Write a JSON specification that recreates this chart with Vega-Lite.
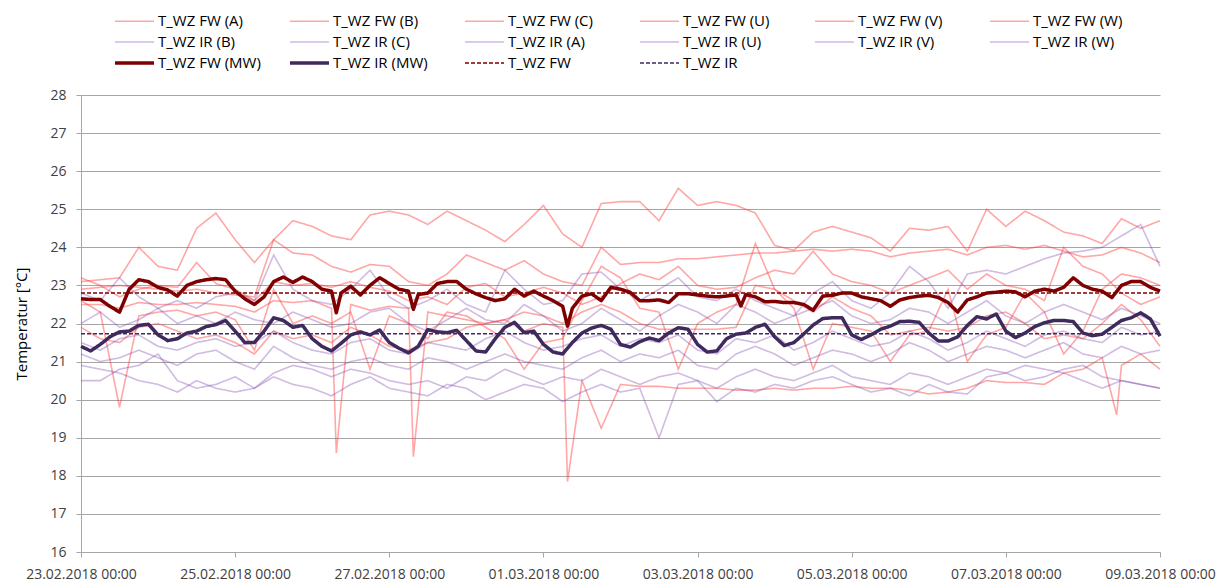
{
"$schema": "https://vega.github.io/schema/vega-lite/v6.json",
"width": 1079, "height": 457,
"autosize": {"type": "none"},
"padding": {"left": 81, "top": 95, "right": 60, "bottom": 32},
"background": "white",
"config": {"view": {"stroke": null}, "font": "Open Sans", "axis": {"labelFont": "Open Sans", "titleFont": "Open Sans"}},
"datasets": {"names": [
{"k":"FA","name":"T_WZ FW (A)"},{"k":"FB","name":"T_WZ FW (B)"},{"k":"FC","name":"T_WZ FW (C)"},{"k":"FU","name":"T_WZ FW (U)"},{"k":"FV","name":"T_WZ FW (V)"},{"k":"FW","name":"T_WZ FW (W)"},
{"k":"IA","name":"T_WZ IR (A)"},{"k":"IB","name":"T_WZ IR (B)"},{"k":"IC","name":"T_WZ IR (C)"},{"k":"IU","name":"T_WZ IR (U)"},{"k":"IV","name":"T_WZ IR (V)"},{"k":"IW","name":"T_WZ IR (W)"},
{"k":"FM","name":"T_WZ FW (MW)"},{"k":"IM","name":"T_WZ IR (MW)"},{"k":"F","name":"T_WZ FW"},{"k":"I","name":"T_WZ IR"}]},
"data": {"values": [
{"t":"2018-02-23T00:00","FA":23.1,"FB":22.9,"FC":23.2,"FU":22.5,"FV":21.9,"FW":22.6,"IA":22.8,"IB":22.0,"IC":21.5,"IU":21.2,"IV":20.5,"IW":20.9,"FM":22.65,"IM":21.4,"F":22.8,"I":21.73},
{"t":"2018-02-23T03:00","FM":22.63,"IM":21.28},
{"t":"2018-02-23T06:00","FA":23.15,"FB":22.95,"FC":23.0,"FU":22.5,"FV":21.6,"FW":22.3,"IA":22.6,"IB":22.3,"IC":21.3,"IU":21.0,"IV":20.5,"IW":20.8,"FM":22.63,"IM":21.45},
{"t":"2018-02-23T09:00","FM":22.45,"IM":21.65},
{"t":"2018-02-23T12:00","FA":23.2,"FB":23.0,"FC":22.7,"FU":22.4,"FV":21.5,"FW":19.8,"IA":23.2,"IB":21.9,"IC":21.6,"IU":21.1,"IV":20.8,"IW":20.7,"FM":22.3,"IM":21.78},
{"t":"2018-02-23T15:00","FM":22.9,"IM":21.8},
{"t":"2018-02-23T18:00","FA":24.0,"FB":22.95,"FC":22.9,"FU":22.55,"FV":21.9,"FW":22.2,"IA":22.7,"IB":22.1,"IC":21.7,"IU":21.3,"IV":20.9,"IW":20.5,"FM":23.15,"IM":21.95},
{"t":"2018-02-23T21:00","FM":23.1,"IM":21.98},
{"t":"2018-02-24T00:00","FA":23.5,"FB":22.9,"FC":23.0,"FU":22.5,"FV":22.0,"FW":22.3,"IA":22.4,"IB":22.4,"IC":21.4,"IU":21.1,"IV":21.2,"IW":20.4,"FM":22.95,"IM":21.7},
{"t":"2018-02-24T03:00","FM":22.88,"IM":21.55},
{"t":"2018-02-24T06:00","FA":23.4,"FB":22.85,"FC":22.95,"FU":22.5,"FV":21.8,"FW":22.35,"IA":22.6,"IB":22.0,"IC":21.3,"IU":20.9,"IV":20.5,"IW":20.2,"FM":22.72,"IM":21.6},
{"t":"2018-02-24T09:00","FM":23.0,"IM":21.75},
{"t":"2018-02-24T12:00","FA":24.5,"FB":22.9,"FC":23.6,"FU":22.55,"FV":21.6,"FW":22.2,"IA":22.4,"IB":22.2,"IC":21.5,"IU":21.2,"IV":20.3,"IW":20.5,"FM":23.1,"IM":21.8},
{"t":"2018-02-24T15:00","FM":23.15,"IM":21.92},
{"t":"2018-02-24T18:00","FA":24.9,"FB":22.8,"FC":23.05,"FU":22.5,"FV":21.7,"FW":22.3,"IA":22.7,"IB":22.0,"IC":21.6,"IU":21.3,"IV":20.4,"IW":20.3,"FM":23.18,"IM":21.97},
{"t":"2018-02-24T21:00","FM":23.15,"IM":22.08},
{"t":"2018-02-25T00:00","FA":24.2,"FB":22.75,"FC":22.9,"FU":22.45,"FV":21.5,"FW":22.1,"IA":22.8,"IB":22.3,"IC":21.4,"IU":21.0,"IV":20.6,"IW":20.2,"FM":22.85,"IM":21.8},
{"t":"2018-02-25T03:00","FM":22.65,"IM":21.5},
{"t":"2018-02-25T06:00","FA":23.6,"FB":22.7,"FC":22.6,"FU":22.3,"FV":21.2,"FW":21.3,"IA":22.6,"IB":22.1,"IC":21.5,"IU":20.8,"IV":20.3,"IW":20.3,"FM":22.5,"IM":21.5},
{"t":"2018-02-25T09:00","FM":22.7,"IM":21.8},
{"t":"2018-02-25T12:00","FA":24.2,"FB":24.2,"FC":23.1,"FU":22.6,"FV":21.8,"FW":22.9,"IA":23.8,"IB":22.0,"IC":21.8,"IU":21.4,"IV":20.7,"IW":20.6,"FM":23.1,"IM":22.15},
{"t":"2018-02-25T15:00","FM":23.22,"IM":22.08},
{"t":"2018-02-25T18:00","FA":24.7,"FB":23.85,"FC":23.0,"FU":22.55,"FV":21.6,"FW":22.0,"IA":22.9,"IB":22.3,"IC":21.5,"IU":21.1,"IV":20.9,"IW":20.4,"FM":23.08,"IM":21.9},
{"t":"2018-02-25T21:00","FM":23.22,"IM":21.95},
{"t":"2018-02-26T00:00","FA":24.55,"FB":23.8,"FC":23.05,"FU":22.6,"FV":21.7,"FW":22.2,"IA":22.6,"IB":22.1,"IC":21.3,"IU":20.9,"IV":20.8,"IW":20.3,"FM":23.1,"IM":21.6},
{"t":"2018-02-26T03:00","FM":22.9,"IM":21.4},
{"t":"2018-02-26T06:00","FA":24.3,"FB":23.5,"FC":22.95,"FU":22.4,"FV":21.5,"FW":22.0,"IA":22.5,"IB":21.9,"IC":21.2,"IU":20.8,"IV":20.6,"IW":20.1,"FM":22.85,"IM":21.28},
{"t":"2018-02-26T07:30","FM":22.28,"FU":18.6},
{"t":"2018-02-26T09:00","FM":22.8,"IM":21.48},
{"t":"2018-02-26T12:00","FA":24.2,"FB":23.35,"FC":23.1,"FU":22.5,"FV":21.9,"FW":22.3,"IA":22.9,"IB":22.0,"IC":21.5,"IU":21.0,"IV":20.8,"IW":20.4,"FM":22.98,"IM":21.7},
{"t":"2018-02-26T15:00","FM":22.75,"IM":21.78},
{"t":"2018-02-26T18:00","FA":24.85,"FB":23.55,"FC":22.95,"FU":22.35,"FV":21.7,"FW":20.8,"IA":23.4,"IB":22.3,"IC":21.6,"IU":21.1,"IV":20.7,"IW":20.6,"FM":23.0,"IM":21.7},
{"t":"2018-02-26T21:00","FM":23.2,"IM":21.83},
{"t":"2018-02-27T00:00","FA":24.95,"FB":23.5,"FC":22.85,"FU":22.45,"FV":21.4,"FW":22.2,"IA":22.7,"IB":22.4,"IC":21.3,"IU":20.9,"IV":20.5,"IW":20.3,"FM":23.05,"IM":21.5},
{"t":"2018-02-27T03:00","FM":22.9,"IM":21.35},
{"t":"2018-02-27T06:00","FA":24.85,"FB":23.1,"FC":22.6,"FU":22.4,"FV":21.3,"FW":22.0,"IA":22.4,"IB":22.0,"IC":21.2,"IU":20.8,"IV":20.4,"IW":20.2,"FM":22.85,"IM":21.23},
{"t":"2018-02-27T07:30","FM":22.37,"FU":18.5},
{"t":"2018-02-27T09:00","FM":22.76,"IM":21.4},
{"t":"2018-02-27T12:00","FA":24.6,"FB":23.0,"FC":22.7,"FU":22.3,"FV":21.5,"FW":21.6,"IA":22.6,"IB":21.8,"IC":21.5,"IU":21.1,"IV":20.5,"IW":20.1,"FM":22.8,"IM":21.84},
{"t":"2018-02-27T15:00","FM":23.05,"IM":21.78},
{"t":"2018-02-27T18:00","FA":24.95,"FB":23.3,"FC":22.5,"FU":22.2,"FV":21.6,"FW":22.3,"IA":22.9,"IB":22.1,"IC":21.4,"IU":21.0,"IV":20.3,"IW":20.4,"FM":23.1,"IM":21.76},
{"t":"2018-02-27T21:00","FM":23.1,"IM":21.82},
{"t":"2018-02-28T00:00","FA":24.7,"FB":23.8,"FC":22.95,"FU":22.1,"FV":21.9,"FW":22.2,"IA":22.5,"IB":22.4,"IC":21.3,"IU":20.8,"IV":20.6,"IW":20.3,"FM":22.9,"IM":21.55},
{"t":"2018-02-28T03:00","FM":22.78,"IM":21.28},
{"t":"2018-02-28T06:00","FA":24.45,"FB":23.6,"FC":23.05,"FU":22.0,"FV":22.0,"FW":21.9,"IA":22.3,"IB":22.1,"IC":21.6,"IU":21.0,"IV":20.5,"IW":20.0,"FM":22.68,"IM":21.25},
{"t":"2018-02-28T09:00","FM":22.6,"IM":21.6},
{"t":"2018-02-28T12:00","FA":24.15,"FB":23.4,"FC":22.7,"FU":22.1,"FV":22.1,"FW":21.6,"IA":23.4,"IB":22.0,"IC":21.8,"IU":21.2,"IV":20.8,"IW":20.2,"FM":22.65,"IM":21.9},
{"t":"2018-02-28T15:00","FM":22.9,"IM":22.03},
{"t":"2018-02-28T18:00","FA":24.6,"FB":23.65,"FC":22.8,"FU":22.3,"FV":21.8,"FW":20.8,"IA":22.9,"IB":22.5,"IC":21.5,"IU":21.0,"IV":20.6,"IW":20.4,"FM":22.72,"IM":21.76},
{"t":"2018-02-28T21:00","FM":22.85,"IM":21.8},
{"t":"2018-03-01T00:00","FA":25.1,"FB":23.3,"FC":22.95,"FU":22.2,"FV":22.0,"FW":21.5,"IA":22.5,"IB":22.2,"IC":21.3,"IU":20.9,"IV":20.4,"IW":20.3,"FM":22.72,"IM":21.45},
{"t":"2018-03-01T03:00","FM":22.6,"IM":21.25},
{"t":"2018-03-01T06:00","FA":24.35,"FB":23.1,"FC":22.8,"FU":22.0,"FV":21.9,"FW":21.6,"IA":22.6,"IB":21.8,"IC":21.4,"IU":20.8,"IV":20.6,"IW":19.95,"FM":22.45,"IM":21.2},
{"t":"2018-03-01T07:30","FM":21.93,"FV":17.85},
{"t":"2018-03-01T09:00","FM":22.4,"IM":21.5},
{"t":"2018-03-01T12:00","FA":24.0,"FB":23.0,"FC":22.5,"FU":22.3,"FV":20.5,"FW":22.6,"IA":23.3,"IB":22.0,"IC":21.6,"IU":21.1,"IV":20.5,"IW":20.2,"FM":22.72,"IM":21.75},
{"t":"2018-03-01T15:00","FM":22.78,"IM":21.88},
{"t":"2018-03-01T18:00","FA":25.15,"FB":24.0,"FC":22.7,"FU":22.5,"FV":19.25,"FW":23.5,"IA":23.35,"IB":22.4,"IC":21.7,"IU":21.3,"IV":20.8,"IW":20.4,"FM":22.6,"IM":21.95},
{"t":"2018-03-01T21:00","FM":22.95,"IM":21.85},
{"t":"2018-03-02T00:00","FA":25.2,"FB":23.55,"FC":23.05,"FU":22.3,"FV":20.4,"FW":23.2,"IA":22.9,"IB":22.1,"IC":21.4,"IU":21.0,"IV":20.6,"IW":20.2,"FM":22.9,"IM":21.45},
{"t":"2018-03-02T03:00","FM":22.82,"IM":21.38},
{"t":"2018-03-02T06:00","FA":25.2,"FB":23.6,"FC":23.3,"FU":22.0,"FV":20.35,"FW":22.4,"IA":22.6,"IB":21.8,"IC":21.6,"IU":21.2,"IV":20.4,"IW":20.3,"FM":22.6,"IM":21.52},
{"t":"2018-03-02T09:00","FM":22.6,"IM":21.62},
{"t":"2018-03-02T12:00","FA":24.7,"FB":23.6,"FC":23.15,"FU":21.85,"FV":20.35,"FW":22.3,"IA":22.9,"IB":22.2,"IC":21.5,"IU":21.1,"IV":20.6,"IW":19.0,"FM":22.62,"IM":21.55},
{"t":"2018-03-02T15:00","FM":22.55,"IM":21.75},
{"t":"2018-03-02T18:00","FA":25.55,"FB":23.7,"FC":23.5,"FU":21.85,"FV":20.3,"FW":20.8,"IA":23.2,"IB":22.5,"IC":21.7,"IU":21.3,"IV":20.7,"IW":20.4,"FM":22.78,"IM":21.89},
{"t":"2018-03-02T21:00","FM":22.78,"IM":21.85},
{"t":"2018-03-03T00:00","FA":25.1,"FB":23.7,"FC":23.0,"FU":21.85,"FV":20.3,"FW":22.0,"IA":22.7,"IB":22.3,"IC":21.3,"IU":20.9,"IV":20.5,"IW":20.5,"FM":22.75,"IM":21.45},
{"t":"2018-03-03T03:00","FM":22.72,"IM":21.25},
{"t":"2018-03-03T06:00","FA":25.2,"FB":23.75,"FC":22.9,"FU":21.85,"FV":20.3,"FW":22.3,"IA":22.6,"IB":22.0,"IC":21.2,"IU":20.8,"IV":20.3,"IW":19.95,"FM":22.7,"IM":21.28},
{"t":"2018-03-03T09:00","FM":22.72,"IM":21.6},
{"t":"2018-03-03T12:00","FA":25.1,"FB":23.8,"FC":22.95,"FU":21.9,"FV":20.25,"FW":22.5,"IA":22.9,"IB":22.5,"IC":21.6,"IU":21.2,"IV":20.6,"IW":20.3,"FM":22.75,"IM":21.72},
{"t":"2018-03-03T13:30","FM":22.46},
{"t":"2018-03-03T15:00","FM":22.76,"IM":21.75},
{"t":"2018-03-03T18:00","FA":24.9,"FB":23.85,"FC":23.2,"FU":23.0,"FV":20.25,"FW":24.1,"IA":22.6,"IB":22.3,"IC":21.5,"IU":21.4,"IV":20.8,"IW":20.2,"FM":22.7,"IM":21.9},
{"t":"2018-03-03T21:00","FM":22.57,"IM":21.98},
{"t":"2018-03-04T00:00","FA":24.05,"FB":23.85,"FC":23.4,"FU":22.9,"FV":20.3,"FW":22.9,"IA":22.4,"IB":22.0,"IC":21.7,"IU":21.2,"IV":20.6,"IW":20.4,"FM":22.58,"IM":21.65},
{"t":"2018-03-04T03:00","FM":22.55,"IM":21.42},
{"t":"2018-03-04T06:00","FA":23.92,"FB":23.9,"FC":23.3,"FU":22.6,"FV":20.25,"FW":22.4,"IA":22.2,"IB":22.2,"IC":21.3,"IU":20.9,"IV":20.5,"IW":20.3,"FM":22.55,"IM":21.5},
{"t":"2018-03-04T09:00","FM":22.5,"IM":21.72},
{"t":"2018-03-04T12:00","FA":24.4,"FB":23.95,"FC":23.9,"FU":22.3,"FV":20.3,"FW":20.8,"IA":22.8,"IB":22.4,"IC":21.5,"IU":21.1,"IV":20.7,"IW":20.5,"FM":22.35,"IM":21.96},
{"t":"2018-03-04T15:00","FM":22.72,"IM":22.13},
{"t":"2018-03-04T18:00","FA":24.55,"FB":23.9,"FC":23.3,"FU":22.7,"FV":20.3,"FW":22.0,"IA":23.1,"IB":22.6,"IC":21.8,"IU":21.3,"IV":20.9,"IW":20.6,"FM":22.74,"IM":22.15},
{"t":"2018-03-04T21:00","FM":22.8,"IM":22.15},
{"t":"2018-03-05T00:00","FA":24.4,"FB":23.95,"FC":23.1,"FU":22.4,"FV":20.35,"FW":21.9,"IA":22.6,"IB":22.2,"IC":21.6,"IU":21.2,"IV":20.6,"IW":20.4,"FM":22.8,"IM":21.7},
{"t":"2018-03-05T03:00","FM":22.7,"IM":21.58},
{"t":"2018-03-05T06:00","FA":24.25,"FB":23.9,"FC":23.0,"FU":22.2,"FV":20.3,"FW":21.8,"IA":22.4,"IB":22.0,"IC":21.4,"IU":21.0,"IV":20.5,"IW":20.2,"FM":22.65,"IM":21.7},
{"t":"2018-03-05T09:00","FM":22.6,"IM":21.85},
{"t":"2018-03-05T12:00","FA":23.9,"FB":23.75,"FC":22.8,"FU":21.7,"FV":20.3,"FW":21.0,"IA":22.8,"IB":22.1,"IC":21.5,"IU":21.2,"IV":20.4,"IW":20.3,"FM":22.45,"IM":21.93},
{"t":"2018-03-05T15:00","FM":22.62,"IM":22.05},
{"t":"2018-03-05T18:00","FA":24.5,"FB":23.85,"FC":23.0,"FU":21.8,"FV":20.25,"FW":21.7,"IA":23.5,"IB":22.4,"IC":21.8,"IU":21.5,"IV":20.7,"IW":20.1,"FM":22.68,"IM":22.06},
{"t":"2018-03-05T21:00","FM":22.72,"IM":22.03},
{"t":"2018-03-06T00:00","FA":24.45,"FB":23.9,"FC":23.2,"FU":21.9,"FV":20.15,"FW":21.8,"IA":23.1,"IB":22.3,"IC":21.6,"IU":21.3,"IV":20.6,"IW":20.4,"FM":22.74,"IM":21.75},
{"t":"2018-03-06T03:00","FM":22.68,"IM":21.54},
{"t":"2018-03-06T06:00","FA":24.55,"FB":23.95,"FC":23.4,"FU":21.8,"FV":20.2,"FW":22.9,"IA":22.4,"IB":22.0,"IC":21.3,"IU":21.0,"IV":20.4,"IW":20.2,"FM":22.55,"IM":21.54},
{"t":"2018-03-06T09:00","FM":22.3,"IM":21.65},
{"t":"2018-03-06T12:00","FA":23.9,"FB":23.8,"FC":22.9,"FU":21.9,"FV":20.3,"FW":21.0,"IA":23.3,"IB":22.3,"IC":21.5,"IU":21.2,"IV":20.6,"IW":20.15,"FM":22.62,"IM":21.95},
{"t":"2018-03-06T15:00","FM":22.7,"IM":22.18},
{"t":"2018-03-06T18:00","FA":25.0,"FB":24.0,"FC":23.3,"FU":22.2,"FV":20.5,"FW":21.7,"IA":23.4,"IB":22.6,"IC":21.8,"IU":21.4,"IV":20.8,"IW":20.6,"FM":22.8,"IM":22.12},
{"t":"2018-03-06T21:00","FM":22.82,"IM":22.25},
{"t":"2018-03-07T00:00","FA":24.55,"FB":24.05,"FC":23.0,"FU":22.3,"FV":20.45,"FW":21.9,"IA":23.3,"IB":22.2,"IC":21.6,"IU":21.3,"IV":20.7,"IW":20.7,"FM":22.85,"IM":21.8},
{"t":"2018-03-07T03:00","FM":22.83,"IM":21.63},
{"t":"2018-03-07T06:00","FA":24.95,"FB":23.95,"FC":22.9,"FU":22.0,"FV":20.45,"FW":22.8,"IA":23.5,"IB":22.0,"IC":21.4,"IU":21.1,"IV":20.5,"IW":20.9,"FM":22.7,"IM":21.75},
{"t":"2018-03-07T09:00","FM":22.85,"IM":21.92},
{"t":"2018-03-07T12:00","FA":24.7,"FB":24.05,"FC":22.6,"FU":21.6,"FV":20.4,"FW":22.3,"IA":23.7,"IB":22.3,"IC":21.7,"IU":21.3,"IV":20.6,"IW":20.8,"FM":22.9,"IM":22.02},
{"t":"2018-03-07T15:00","FM":22.85,"IM":22.08},
{"t":"2018-03-07T18:00","FA":24.4,"FB":23.9,"FC":24.0,"FU":21.7,"FV":20.7,"FW":21.2,"IA":23.85,"IB":22.5,"IC":21.8,"IU":21.5,"IV":20.8,"IW":20.7,"FM":22.95,"IM":22.08},
{"t":"2018-03-07T21:00","FM":23.2,"IM":22.05},
{"t":"2018-03-08T00:00","FA":24.3,"FB":23.75,"FC":23.5,"FU":21.6,"FV":20.8,"FW":21.8,"IA":23.9,"IB":22.3,"IC":21.6,"IU":21.2,"IV":20.9,"IW":20.5,"FM":23.0,"IM":21.75},
{"t":"2018-03-08T03:00","FM":22.9,"IM":21.68},
{"t":"2018-03-08T06:00","FA":24.1,"FB":23.8,"FC":23.3,"FU":22.0,"FV":21.1,"FW":22.9,"IA":24.0,"IB":22.1,"IC":21.5,"IU":21.1,"IV":20.6,"IW":20.3,"FM":22.85,"IM":21.72},
{"t":"2018-03-08T09:00","FM":22.68,"IM":21.9},
{"t":"2018-03-08T10:30","FV":19.6},
{"t":"2018-03-08T12:00","FA":24.75,"FB":24.0,"FC":22.8,"FU":22.5,"FV":20.9,"FW":23.3,"IA":24.3,"IB":22.4,"IC":21.9,"IU":21.4,"IV":20.5,"IW":20.5,"FM":23.0,"IM":22.08},
{"t":"2018-03-08T15:00","FM":23.1,"IM":22.15},
{"t":"2018-03-08T18:00","FA":24.5,"FB":23.85,"FC":22.5,"FU":22.1,"FV":21.2,"FW":23.2,"IA":24.6,"IB":22.2,"IC":21.7,"IU":21.2,"IV":20.4,"IW":20.4,"FM":23.1,"IM":22.28},
{"t":"2018-03-08T21:00","FM":22.95,"IM":22.12},
{"t":"2018-03-09T00:00","FA":24.7,"FB":23.6,"FC":22.7,"FU":21.4,"FV":20.8,"FW":23.0,"IA":23.5,"IB":22.0,"IC":21.8,"IU":21.3,"IV":20.3,"IW":20.3,"FM":22.85,"IM":21.67,"F":22.8,"I":21.73}
]},
"transform": [
{"fold": ["FA","FB","FC","FU","FV","FW","IA","IB","IC","IU","IV","IW","F","I","FM","IM"], "as": ["k","v"]},
{"filter": "isValid(datum.v)"},
{"lookup": "k", "from": {"data": {"name": "names"}, "key": "k", "fields": ["name"]}}
],
"encoding": {
"x": {"field": "t", "type": "temporal",
 "scale": {"domain": [{"year":2018,"month":2,"date":23},{"year":2018,"month":3,"date":9}]},
 "axis": {"title": null, "grid": false, "format": "%d.%m.%Y %H:%M",
  "values": [{"year":2018,"month":2,"date":23},{"year":2018,"month":2,"date":25},{"year":2018,"month":2,"date":27},{"year":2018,"month":3,"date":1},{"year":2018,"month":3,"date":3},{"year":2018,"month":3,"date":5},{"year":2018,"month":3,"date":7},{"year":2018,"month":3,"date":9}],
  "labelFontSize": 14, "labelColor": "#404040", "labelFlush": false, "labelOverlap": false,
  "tickSize": 5, "tickColor": "#A6A6A6", "domainColor": "#A6A6A6", "labelPadding": 10}},
"y": {"field": "v", "type": "quantitative",
 "scale": {"domain": [16, 28], "nice": false, "zero": false},
 "axis": {"title": "Temperatur [°C]", "values": [16,17,18,19,20,21,22,23,24,25,26,27,28],
  "grid": true, "gridColor": "#A6A6A6", "domainColor": "#A6A6A6", "tickColor": "#A6A6A6", "tickSize": 5,
  "labelFontSize": 14, "labelColor": "#404040", "labelPadding": 10,
  "titleFontSize": 15, "titleFontWeight": "normal", "titleColor": "#000000", "titlePadding": 20}},
"color": {"field": "name", "type": "nominal",
 "scale": {"domain": ["T_WZ FW (A)","T_WZ FW (B)","T_WZ FW (C)","T_WZ FW (U)","T_WZ FW (V)","T_WZ FW (W)","T_WZ IR (B)","T_WZ IR (C)","T_WZ IR (A)","T_WZ IR (U)","T_WZ IR (V)","T_WZ IR (W)","T_WZ FW (MW)","T_WZ IR (MW)","T_WZ FW","T_WZ IR"],
  "range": ["rgba(255,60,60,0.45)","rgba(255,60,60,0.45)","rgba(255,60,60,0.45)","rgba(255,60,60,0.45)","rgba(255,60,60,0.45)","rgba(255,60,60,0.45)","rgba(120,60,170,0.35)","rgba(120,60,170,0.35)","rgba(120,60,170,0.35)","rgba(120,60,170,0.35)","rgba(120,60,170,0.35)","rgba(120,60,170,0.35)","#7F0000","#3F2A5E","#7F0000","#3F2A5E"]},
 "legend": {"title": null, "orient": "none", "legendX": 19, "legendY": -84.3, "direction": "horizontal", "columns": 6,
  "symbolType": "stroke", "symbolSize": 1521, "symbolOffset": 27, "labelFontSize": 15, "labelFont": "Open Sans", "labelColor": "#000000", "labelLimit": 0,
  "columnPadding": 14, "rowPadding": 0, "clipHeight": 20.6, "gridAlign": "all", "labelOffset": 16,
  "encode": {"symbols": {"update": {"strokeWidth": {"signal": "indexof(['T_WZ FW (MW)','T_WZ IR (MW)'], datum.value) >= 0 ? 3.5 : 1.5"}}}}}},
"strokeDash": {"field": "name", "type": "nominal",
 "scale": {"domain": ["T_WZ FW (A)","T_WZ FW (B)","T_WZ FW (C)","T_WZ FW (U)","T_WZ FW (V)","T_WZ FW (W)","T_WZ IR (B)","T_WZ IR (C)","T_WZ IR (A)","T_WZ IR (U)","T_WZ IR (V)","T_WZ IR (W)","T_WZ FW (MW)","T_WZ IR (MW)","T_WZ FW","T_WZ IR"],
  "range": [[1,0],[1,0],[1,0],[1,0],[1,0],[1,0],[1,0],[1,0],[1,0],[1,0],[1,0],[1,0],[1,0],[1,0],[4,2],[4,2]]},
 "legend": {"title": null, "orient": "none", "legendX": 19, "legendY": -84.3, "direction": "horizontal", "columns": 6,
  "symbolType": "stroke", "symbolSize": 1521, "symbolOffset": 27, "labelFontSize": 15, "labelFont": "Open Sans", "labelColor": "#000000", "labelLimit": 0,
  "columnPadding": 14, "rowPadding": 0, "clipHeight": 20.6, "gridAlign": "all", "labelOffset": 16,
  "encode": {"symbols": {"update": {"strokeWidth": {"signal": "indexof(['T_WZ FW (MW)','T_WZ IR (MW)'], datum.value) >= 0 ? 3.5 : 1.5"}}}}}}
},
"layer": [
{"transform": [{"filter": {"field": "name", "oneOf": ["T_WZ FW (A)","T_WZ FW (B)","T_WZ FW (C)","T_WZ FW (U)","T_WZ FW (V)","T_WZ FW (W)","T_WZ IR (B)","T_WZ IR (C)","T_WZ IR (A)","T_WZ IR (U)","T_WZ IR (V)","T_WZ IR (W)"]}}],
 "mark": {"type": "line", "strokeWidth": 1.6}},
{"transform": [{"filter": {"field": "name", "oneOf": ["T_WZ FW","T_WZ IR"]}}],
 "mark": {"type": "line", "strokeWidth": 1.4}},
{"transform": [{"filter": {"field": "name", "oneOf": ["T_WZ FW (MW)","T_WZ IR (MW)"]}}],
 "mark": {"type": "line", "strokeWidth": 3.5, "strokeJoin": "round"}}
]
}
